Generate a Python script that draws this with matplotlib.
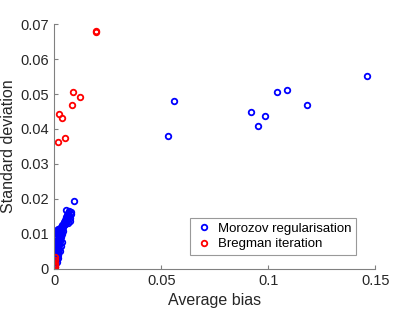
import matplotlib.pyplot as plt

plt.rcParams['font.family'] = ['Liberation Sans', 'DejaVu Sans']

# Morozov regularisation: (average bias, standard deviation)
morozov_bias = [0.0921, 0.0950, 0.0985, 0.1039, 0.1086, 0.1182, 0.1464, 0.0531, 0.0559,
                0.0002, 0.0003, 0.0004, 0.0006, 0.0008, 0.0010, 0.0012, 0.0015, 0.0018,
                0.0021, 0.0024, 0.0028, 0.0008, 0.0012, 0.0016, 0.0020, 0.0024, 0.0028,
                0.0032, 0.0036, 0.0040, 0.0004, 0.0006, 0.0008, 0.0010, 0.0012, 0.0030,
                0.0035, 0.0042, 0.0045, 0.0050, 0.0055, 0.0063, 0.0058, 0.0053, 0.0069,
                0.0078, 0.0073, 0.0091, 0.0002, 0.0014, 0.0018, 0.0025, 0.0030, 0.0034,
                0.0005, 0.0009, 0.0013, 0.0017, 0.0022, 0.0026, 0.0038, 0.0048, 0.0060,
                0.0001, 0.0003, 0.0007, 0.0011, 0.0016, 0.0020, 0.0005, 0.0009, 0.0013,
                0.0019, 0.0023, 0.0027, 0.0031, 0.0034, 0.0038, 0.0044, 0.0047, 0.0052,
                0.0056, 0.0061, 0.0066, 0.0070, 0.0075, 0.0080, 0.0002, 0.0006, 0.0015]
morozov_std = [0.0449, 0.0408, 0.0438, 0.0505, 0.0511, 0.0469, 0.0551, 0.0380, 0.0480,
               0.0005, 0.0015, 0.0025, 0.0035, 0.0045, 0.0055, 0.0065, 0.0075, 0.0085,
               0.0095, 0.0105, 0.0112, 0.0025, 0.0035, 0.0048, 0.0058, 0.0068, 0.0080,
               0.0090, 0.0100, 0.0108, 0.0060, 0.0075, 0.0090, 0.0100, 0.0108, 0.0120,
               0.0125, 0.0121, 0.0130, 0.0140, 0.0135, 0.0132, 0.0155, 0.0169, 0.0167,
               0.0157, 0.0145, 0.0194, 0.0040, 0.0020, 0.0040, 0.0050, 0.0065, 0.0078,
               0.0010, 0.0030, 0.0052, 0.0070, 0.0082, 0.0098, 0.0115, 0.0128, 0.0150,
               0.0020, 0.0030, 0.0050, 0.0062, 0.0072, 0.0088, 0.0080, 0.0095, 0.0112,
               0.0115, 0.0100, 0.0092, 0.0105, 0.0115, 0.0118, 0.0125, 0.0135, 0.0128,
               0.0148, 0.0142, 0.0160, 0.0150, 0.0138, 0.0162, 0.0070, 0.0105, 0.0030]

# Bregman iteration
bregman_bias = [0.0195, 0.0196, 0.0087, 0.0121, 0.0022, 0.0037, 0.0084, 0.0050, 0.0016,
                0.0003, 0.0003, 0.0004, 0.0002, 0.0004]
bregman_std = [0.0679, 0.0677, 0.0505, 0.0492, 0.0442, 0.0432, 0.0468, 0.0373, 0.0362,
               0.0005, 0.0015, 0.0025, 0.0035, 0.0010]

fig = plt.figure(figsize=(4.15, 3.12), dpi=100)
ax = fig.add_axes([0.131, 0.138, 0.773, 0.785])

ax.plot(morozov_bias, morozov_std, 'o', mfc='none', mec=(0, 0, 1), mew=1.3, ms=4,
        label='Morozov regularisation')
ax.plot(bregman_bias, bregman_std, 'o', mfc='none', mec=(1, 0, 0), mew=1.3, ms=4,
        label='Bregman iteration')

ax.set_xlim(0, 0.15)
ax.set_ylim(0, 0.07)
ax.set_xticks([0, 0.05, 0.1, 0.15])
ax.set_xticklabels(['0', '0.05', '0.1', '0.15'])
ax.set_yticks([0, 0.01, 0.02, 0.03, 0.04, 0.05, 0.06, 0.07])
ax.set_yticklabels(['0', '0.01', '0.02', '0.03', '0.04', '0.05', '0.06', '0.07'])

gray = (0.15, 0.15, 0.15)
for s in ['top', 'right']:
    ax.spines[s].set_visible(False)
for s in ['left', 'bottom']:
    ax.spines[s].set_color((0.5, 0.5, 0.5))
    ax.spines[s].set_linewidth(0.8)
ax.tick_params(direction='in', length=3, color=(0.5, 0.5, 0.5), labelcolor=gray,
               labelsize=10.5, pad=4)
ax.set_xlabel('Average bias', fontsize=11.5, color=gray, labelpad=3)
ax.set_ylabel('Standard deviation', fontsize=11.5, color=gray, labelpad=3)

leg = ax.legend(loc='lower right', bbox_to_anchor=(0.962, 0.03), fontsize=9.5,
                frameon=True, fancybox=False, edgecolor=(0.5, 0.5, 0.5),
                handletextpad=0.3, handlelength=1.5, borderpad=0.35, labelspacing=0.25)
leg.get_frame().set_linewidth(0.8)

fig.savefig('out.png', dpi=100)
